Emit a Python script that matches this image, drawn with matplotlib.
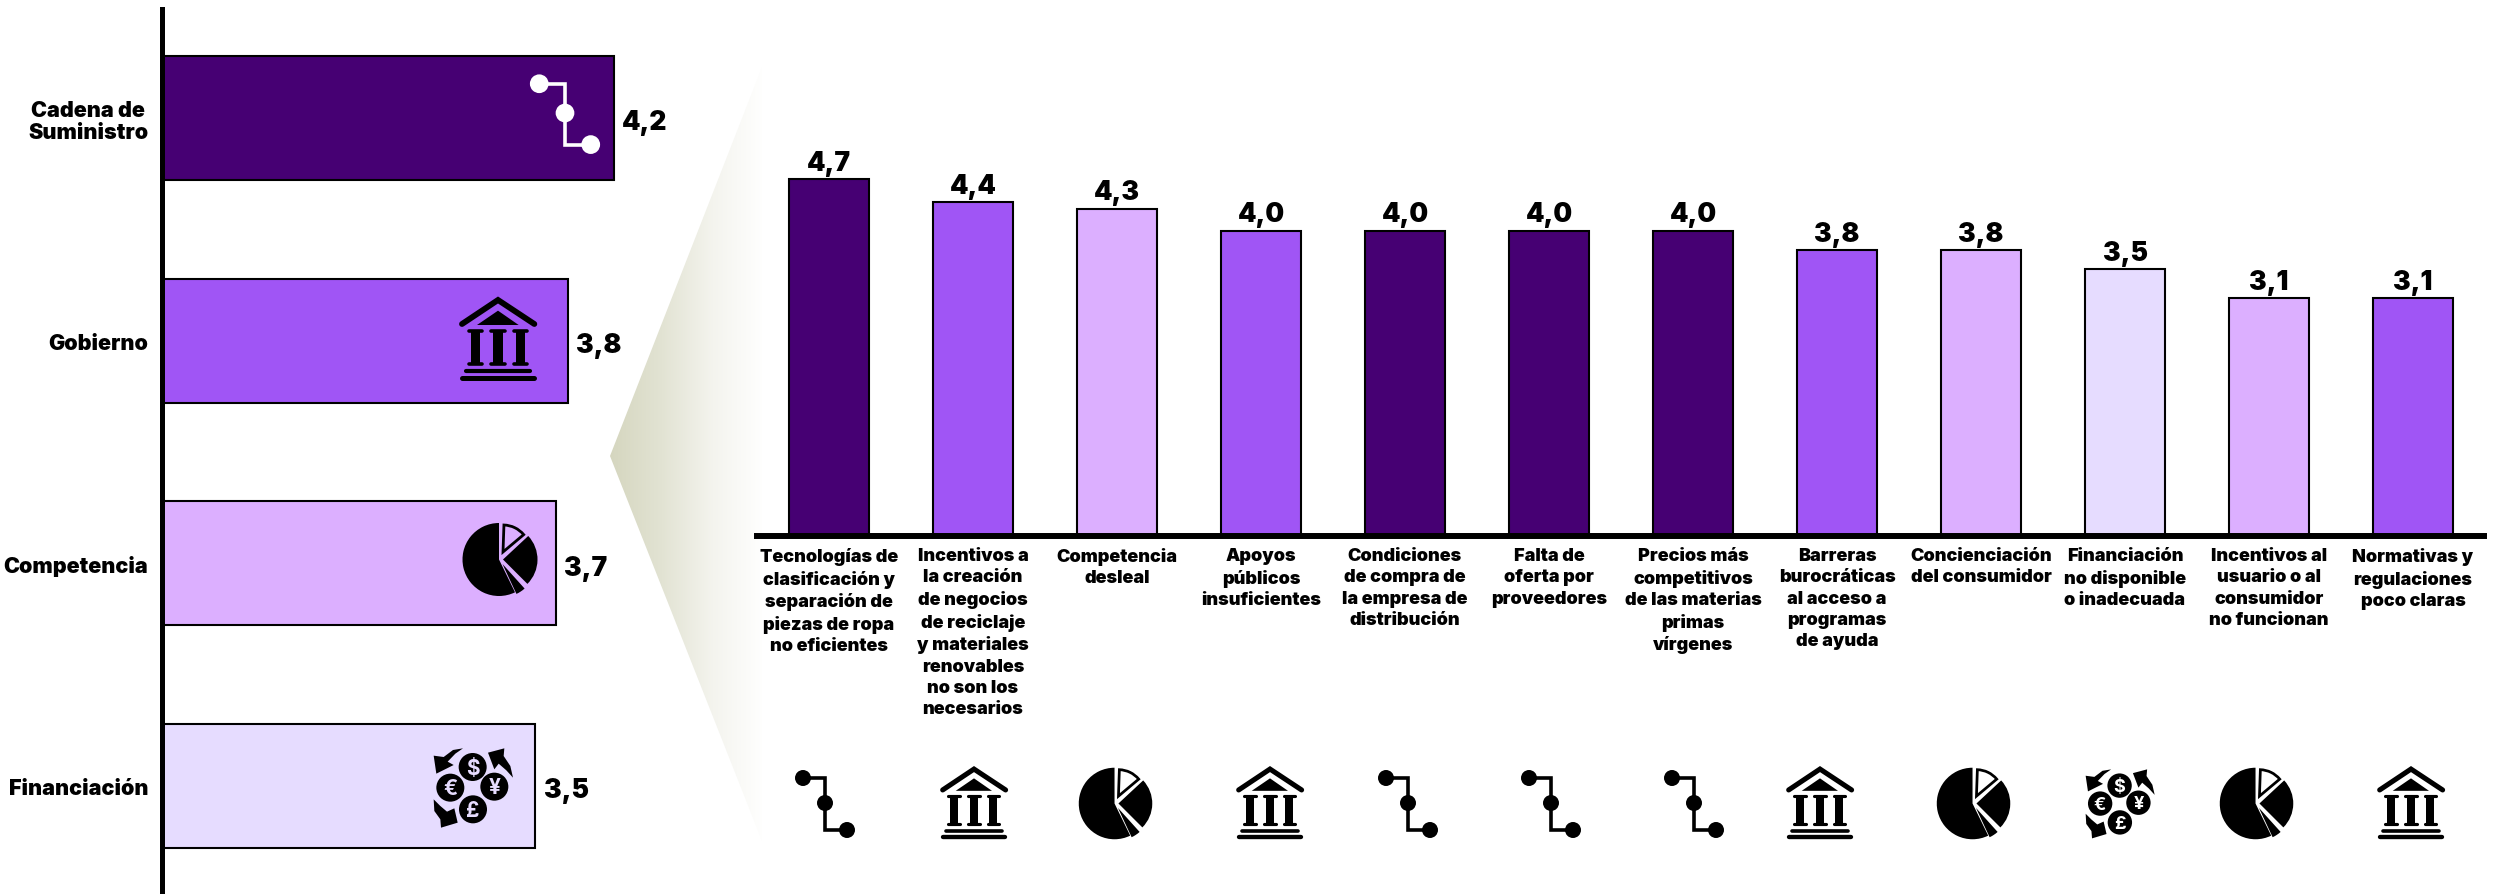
import matplotlib
matplotlib.use('Agg')
import matplotlib.pyplot as plt
from matplotlib.patches import Wedge, Circle, Polygon
import numpy as np

W, H = 2494, 895

# datos panel izquierdo
sectores = ["Cadena de\nSuministro", "Gobierno", "Competencia", "Financiación"]
sectores_valores = [4.22, 3.79, 3.68, 3.49]
sectores_colores = ["#460073", "#A055F5", "#DCAFFF", "#E6DCFF"]
sectores_iconos = ["ruta", "banco", "tarta", "dinero"]

# datos panel derecho
barreras = [
    "Tecnologías de\nclasificación y\nseparación de\npiezas de ropa\nno eficientes",
    "Incentivos a\nla creación\nde negocios\nde reciclaje\ny materiales\nrenovables\nno son los\nnecesarios",
    "Competencia\ndesleal",
    "Apoyos\npúblicos\ninsuficientes",
    "Condiciones\nde compra de\nla empresa de\ndistribución",
    "Falta de\noferta por\nproveedores",
    "Precios más\ncompetitivos\nde las materias\nprimas\nvírgenes",
    "Barreras\nburocráticas\nal acceso a\nprogramas\nde ayuda",
    "Concienciación\ndel consumidor",
    "Financiación\nno disponible\no inadecuada",
    "Incentivos al\nusuario o al\nconsumidor\nno funcionan",
    "Normativas y\nregulaciones\npoco claras",
]
barreras_valores = [4.68, 4.38, 4.29, 4.0, 4.0, 4.0, 4.0, 3.75, 3.75, 3.5, 3.12, 3.12]
barreras_tipo = ["ruta", "banco", "tarta", "banco", "ruta", "ruta", "ruta",
                 "banco", "tarta", "dinero", "tarta", "banco"]
colores_tipo = {"ruta": "#460073", "banco": "#A055F5", "tarta": "#DCAFFF", "dinero": "#E6DCFF"}

plt.rcParams['font.family'] = ['Inter', 'Roboto', 'DejaVu Sans']
plt.rcParams['font.weight'] = 'black'


def ejes_px(fig, x0, y0, x1, y1, **kw):
    # rectangulo en pixeles, y hacia abajo
    return fig.add_axes([x0 / W, 1 - y1 / H, (x1 - x0) / W, (y1 - y0) / H], **kw)


def formato(v):
    return f"{v:.1f}".replace(".", ",")


def icono_ruta(ax, cx, cy, k, color):
    x1, y1, x3, y3 = cx - 22 * k, cy - 25 * k, cx + 22 * k, cy + 27 * k
    ax.plot([x1, cx, cx, x3], [y1, y1, y3, y3], color=color, lw=2.6, solid_joinstyle='miter')
    for x, y in [(x1, y1), (cx, cy), (x3, y3)]:
        ax.add_patch(Circle((x, y), 8 * k, fc=color, ec='none'))


def icono_banco(ax, cx, cy, k, color):
    # medidas tomadas del icono en unidades de 1/3 px
    u = k / 3
    def px(x, y):
        return cx + (x - 143) * u, cy + (y - 150) * u
    xs, ys = zip(*[px(35, 105), px(143, 33), px(252, 105)])
    ax.plot(xs, ys, color=color, lw=4.2 * k, solid_capstyle='round', solid_joinstyle='miter')
    ax.add_patch(Polygon([px(80, 108), px(143, 65), px(205, 108)], fc=color, ec='none'))
    for xc in (75, 143, 210):
        ax.add_patch(Polygon([px(xc - 14, 125), px(xc + 14, 125), px(xc + 14, 225), px(xc - 14, 225)],
                             fc=color, ec='none'))
        for yc in (127, 224):
            xs, ys = zip(*[px(xc - 20, yc), px(xc + 20, yc)])
            ax.plot(xs, ys, color=color, lw=2.6 * k, solid_capstyle='round')
    for x0, x1, yc, lw in [(48, 238, 245, 3.0), (36, 251, 267, 3.6)]:
        xs, ys = zip(*[px(x0, yc), px(x1, yc)])
        ax.plot(xs, ys, color=color, lw=lw * k, solid_capstyle='round')


def icono_tarta(ax, cx, cy, k, color):
    # angulos visuales, el eje y va invertido
    def cuna(x, y, r, a1, a2, **kw):
        ax.add_patch(Wedge((cx + x * k, cy + y * k), r * k, -a2, -a1, **kw))
    cuna(-1.5, 0.5, 36.5, 90, 296, fc=color, ec='none')
    cuna(2.5, 0.5, 34.5, -45, 43, fc=color, ec='none')
    cuna(2, 5, 33, -65, -48, fc=color, ec='none')
    cuna(2.5, -7, 27, 40, 88, fc='none', ec=color, lw=2.0 * k)


def icono_dinero(ax, cx, cy, k, color, fondo):
    u = k / 3
    def px(x, y):
        return cx + (x - 155) * u, cy + (y - 158) * u
    flechas = [
        [(128, 42), (98, 47), (70, 68), (40, 64), (48, 118), (100, 92), (82, 82), (105, 58)],
        [(278, 130), (270, 95), (250, 65), (252, 42), (203, 55), (222, 105), (235, 88), (258, 108)],
        [(40, 195), (42, 230), (60, 255), (62, 280), (112, 265), (102, 222), (80, 232), (60, 215)],
    ]
    for f in flechas:
        ax.add_patch(Polygon([px(*p) for p in f], fc=color, ec='none'))
    for (x, y, s) in [(157, 98, "$"), (90, 160, "€"), (222, 157, "¥"), (158, 225, "£")]:
        ax.add_patch(Circle(px(x, y), 14 * k, fc=color, ec='none'))
        ax.text(*px(x, y + 2), s, color=fondo, ha='center', va='center', fontsize=15 * k, fontweight='bold')


def icono(ax, tipo, cx, cy, k, color='black', fondo='white'):
    if tipo == "ruta":
        icono_ruta(ax, cx, cy, k, color)
    elif tipo == "banco":
        icono_banco(ax, cx, cy, k, color)
    elif tipo == "tarta":
        icono_tarta(ax, cx, cy, k, color)
    else:
        icono_dinero(ax, cx, cy, k, color, fondo)


fig = plt.figure(figsize=(W / 100, H / 100), dpi=100, facecolor='white')

# cuna con degradado entre los dos paneles
fondo = ejes_px(fig, 0, 0, W, H, zorder=0)
fondo.axis('off')
degradado = np.linspace(0, 1, 256).reshape(1, -1)
cmap = matplotlib.colors.LinearSegmentedColormap.from_list("cuna", ["#D5D6BF", "#E2E3D3", "#F4F4EE", "#FFFFFF"])
img = fondo.imshow(degradado, extent=(610, 765, 845, 65), cmap=cmap, aspect='auto')
cuna = Polygon([(610, 457), (762, 68), (762, 842)], transform=fondo.transData, fc='none', ec='none')
fondo.add_patch(cuna)
img.set_clip_path(cuna)
fondo.set_xlim(0, W)
fondo.set_ylim(H, 0)

# panel izquierdo
ax1 = ejes_px(fig, 162, 10, 740, H, zorder=1)
ax1.patch.set_alpha(0)
pos = np.arange(len(sectores))
ax1.barh(pos, sectores_valores, height=0.557, color=sectores_colores, edgecolor='black', linewidth=1.5)
ax1.set_ylim(776 / 222.7, -109 / 222.7)
ax1.set_xlim(0, 578 / 107)
ax1.set_xticks([])
ax1.set_yticks(pos)
ax1.set_yticklabels(sectores, fontsize=15.5, linespacing=1.15, multialignment='center')
ax1.tick_params(axis='y', length=0, pad=10)
for s in ('top', 'right', 'bottom'):
    ax1.spines[s].set_visible(False)
ax1.spines['left'].set_linewidth(3.6)
for i, v in enumerate(sectores_valores):
    ax1.annotate(formato(v), (v, i), xytext=(6, -3), textcoords='offset points',
                 ha='left', va='center', fontsize=19)

# panel derecho
ax2 = ejes_px(fig, 757, 100, 2484, 537, zorder=1)
ax2.patch.set_alpha(0)
pos2 = np.arange(len(barreras))
ax2.bar(pos2, barreras_valores, width=80 / 144, color=[colores_tipo[t] for t in barreras_tipo],
        edgecolor='black', linewidth=1.5)
ax2.set_xlim(-72 / 144, 1655 / 144)
ax2.set_ylim(0, 437 / 76.2)
ax2.set_yticks([])
ax2.set_xticks(pos2)
ax2.set_xticklabels(barreras, fontsize=13, linespacing=1.33, multialignment='center')
ax2.tick_params(axis='x', length=0, pad=8)
for s in ('top', 'right', 'left'):
    ax2.spines[s].set_visible(False)
ax2.spines['bottom'].set_linewidth(4.3)
for i, v in enumerate(barreras_valores):
    ax2.annotate(formato(v), (i, v), xytext=(0, 7), textcoords='offset points',
                 ha='center', va='baseline', fontsize=19)

# iconos, en pixeles de la figura
capa = ejes_px(fig, 0, 0, W, H, zorder=2)
capa.set_xlim(0, W)
capa.set_ylim(H, 0)
capa.axis('off')

centros_izq = [(565, 114, 1.17), (498, 340, 1.0), (500.5, 560, 1.0), (472, 788, 1.0)]
for t, (cx, cy, k), c in zip(sectores_iconos, centros_izq, sectores_colores):
    icono(capa, t, cx, cy, k, color='white' if t == "ruta" else 'black', fondo=c)

centros_der = [825, 974, 1116, 1270, 1408, 1551, 1694, 1820, 1974, 2119, 2257, 2411]
for t, cx in zip(barreras_tipo, centros_der):
    k = {"ruta": 1.0, "banco": 0.87, "tarta": 0.98, "dinero": 0.87}[t]
    icono(capa, t, cx, 804, k)

fig.savefig('out.png', dpi=100)
